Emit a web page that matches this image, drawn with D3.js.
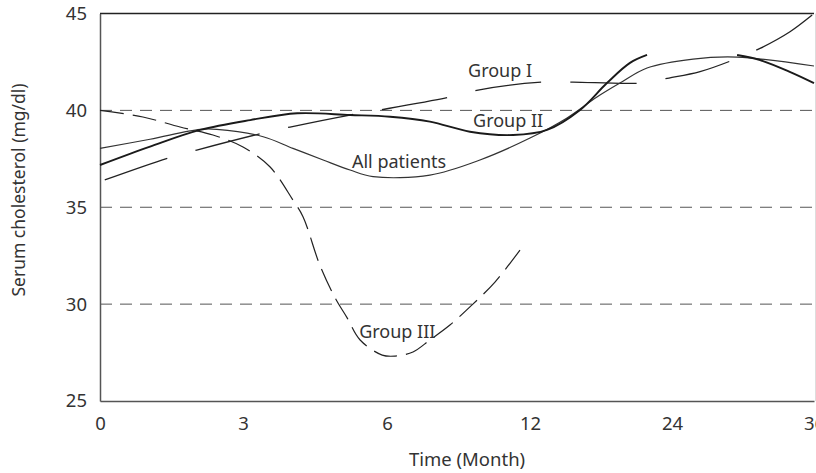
<!DOCTYPE html>
<html>
<head>
<meta charset="utf-8">
<script src="https://cdn.jsdelivr.net/npm/d3@7"></script>
<style>
  html, body { margin: 0; padding: 0; background: #fff; }
  svg { display: block; }
  text { font-family: "Noto Sans", "Open Sans", sans-serif; fill: #333; }
</style>
</head>
<body>
<svg id="chart" width="816" height="473"></svg>
<script>
// Time points on the x axis (months) and their labels
const months = [0, 3, 6, 12, 24, 36];
const monthLabels = ["0", "3", "6", "12", "24", "36"];
const yTicks = [25, 30, 35, 40, 45];
const referenceLevels = [30, 35, 40];

// Serum cholesterol curves: [month, mg/dl]
const allPatients = [
  [0, 38.04], [1.05, 38.51], [2.1, 39.02], [2.45, 39.02], [3.42, 38.64],
  [4.04, 38.04], [4.67, 37.44], [5.23, 36.92], [5.71, 36.58], [7.8, 36.66],
  [9.9, 37.44], [12, 38.57], [15.13, 39.61], [17.66, 40.69], [19.6, 41.41],
  [21.89, 42.19], [25.78, 42.65], [29.5, 42.75], [36, 42.29]
];
const groupI = [
  [0.1, 36.41], [1.43, 37.54], [2.03, 37.95], [3.42, 38.83], [3.98, 39.14],
  [5.23, 39.76], [5.85, 40.02], [8.64, 40.69], [9.82, 41.05], [13.1, 41.46],
  [15.63, 41.46], [21.3, 41.41], [23.75, 41.67], [26.37, 42.0], [29.16, 42.6],
  [31.44, 43.2], [33.97, 44.06], [36, 45.0]
];
const groupII = [
  [0, 37.18], [1.05, 38.13], [2.1, 38.99], [3.15, 39.5], [4.13, 39.85],
  [5.23, 39.76], [6.13, 39.67], [7.8, 39.42], [9.48, 38.9], [11.29, 38.73],
  [13.44, 38.99], [16.23, 40.02], [18.5, 41.41], [20.45, 42.45], [21.89, 42.86],
  [26, null],
  [29.5, 42.86], [31.44, 42.6], [34, 41.98], [36, 41.41]
];
const groupIII = [
  [0, 40.0], [0.9, 39.66], [1.68, 39.14], [2.37, 38.73], [3.0, 38.11],
  [3.56, 37.09], [4.04, 35.37], [4.25, 34.51], [4.6, 32.02], [4.92, 30.32],
  [5.17, 29.29], [5.44, 28.15], [5.9, 27.37], [6.34, 27.32], [7.09, 27.53],
  [7.8, 28.15], [8.64, 28.92], [9.56, 29.95], [10.53, 31.14], [11.58, 32.79]
];

// Curve labels placed in data coordinates
const curveLabels = [
  { text: "Group I", month: 9.4, value: 41.74 },
  { text: "Group II", month: 9.61, value: 39.16 },
  { text: "All patients", month: 5.27, value: 37.04 },
  { text: "Group III", month: 5.42, value: 28.25 }
];

const svg = d3.select("#chart");
const plotLeft = 100, plotRight = 814, plotTop = 13.5, plotBottom = 401;

// The month axis is spaced evenly per labelled time point
const x = d3.scaleLinear()
  .domain(months)
  .range([100, 243, 387, 530, 672, 814]);
const y = d3.scaleLinear().domain([25, 45]).range([plotBottom, plotTop]);

// dashed reference levels
svg.append("g").selectAll("line")
  .data(referenceLevels)
  .join("line")
  .attr("x1", plotLeft).attr("x2", plotRight)
  .attr("y1", d => y(d)).attr("y2", d => y(d))
  .attr("stroke", "#555").attr("stroke-width", 1)
  .attr("stroke-dasharray", "12,8");

// frame
svg.append("line").attr("x1", plotLeft).attr("x2", plotRight)
  .attr("y1", plotTop).attr("y2", plotTop)
  .attr("stroke", "#222").attr("stroke-width", 1.3);
svg.append("line").attr("x1", 815.5).attr("x2", 815.5)
  .attr("y1", plotTop).attr("y2", plotBottom)
  .attr("stroke", "#ddd").attr("stroke-width", 1);

// axes
const xAxis = svg.append("g")
  .attr("transform", `translate(0,${plotBottom})`)
  .call(d3.axisBottom(x).tickValues(months)
    .tickFormat((d, i) => monthLabels[i])
    .tickSize(0).tickSizeOuter(0).tickPadding(16));
const yAxis = svg.append("g")
  .attr("transform", `translate(${plotLeft},0)`)
  .call(d3.axisLeft(y).tickValues(yTicks)
    .tickFormat(d3.format("d"))
    .tickSize(0).tickSizeOuter(0).tickPadding(13));
[xAxis, yAxis].forEach(g => {
  g.select(".domain").attr("stroke", "#555").attr("stroke-width", 1.5);
  g.selectAll("text").attr("font-size", 18.5).attr("fill", "#333")
    .attr("font-family", "\"Noto Sans\", sans-serif");
});

// axis titles
svg.append("text")
  .attr("x", 467).attr("y", 466)
  .attr("text-anchor", "middle")
  .attr("font-size", 18.5)
  .text("Time (Month)");
svg.append("text")
  .attr("transform", "translate(25,190) rotate(-90)")
  .attr("text-anchor", "middle")
  .attr("font-size", 17.5)
  .text("Serum cholesterol (mg/dl)");

// curves
const line = d3.line()
  .defined(d => d[1] !== null)
  .x(d => x(d[0])).y(d => y(d[1]))
  .curve(d3.curveCatmullRom.alpha(0.5));

const plot = svg.append("g").attr("fill", "none").attr("stroke-linecap", "butt");
plot.append("path").datum(groupIII).attr("d", line)
  .attr("stroke", "#222").attr("stroke-width", 1.2)
  .attr("stroke-dasharray", "24,9");
plot.append("path").datum(groupI).attr("d", line)
  .attr("stroke", "#222").attr("stroke-width", 1.3)
  .attr("stroke-dasharray", "66,29.5");
plot.append("path").datum(allPatients).attr("d", line)
  .attr("stroke", "#333").attr("stroke-width", 1.2);
plot.append("path").datum(groupII).attr("d", line)
  .attr("stroke", "#1a1a1a").attr("stroke-width", 1.9);

// labels
svg.append("g").selectAll("text")
  .data(curveLabels)
  .join("text")
  .attr("x", d => x(d.month)).attr("y", d => y(d.value))
  .attr("font-size", 18)
  .text(d => d.text);
</script>
</body>
</html>
